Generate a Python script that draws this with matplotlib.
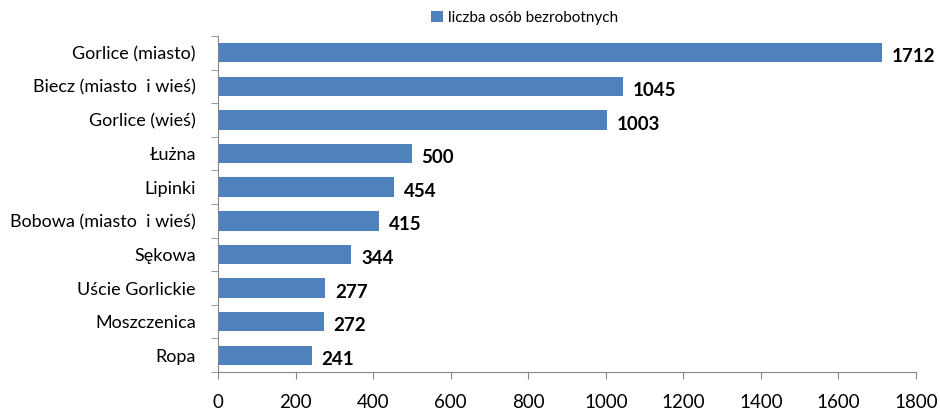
import matplotlib
matplotlib.use("Agg")
import matplotlib.pyplot as plt
import numpy as np
from matplotlib.ticker import FixedLocator

categories = ["Gorlice (miasto)", "Biecz (miasto  i wieś)", "Gorlice (wieś)", "Łużna", "Lipinki",
              "Bobowa (miasto  i wieś)", "Sękowa", "Uście Gorlickie", "Moszczenica", "Ropa"]
values = [1712, 1045, 1003, 500, 454, 415, 344, 277, 272, 241]
series_name = "liczba osób bezrobotnych"
xticks = [0, 200, 400, 600, 800, 1000, 1200, 1400, 1600, 1800]

plt.rcParams['font.family'] = ['Lato', 'DejaVu Sans']

fig = plt.figure(figsize=(9.4, 4.13), dpi=100)
ax = fig.add_axes([0.232, 0.099, 0.7425, 0.814])

y = np.arange(len(categories))
bars = ax.barh(y, values, height=0.58, color="#4F81BD", label=series_name)
ax.set_ylim(len(categories) - 0.5, -0.5)
ax.set_xlim(0, 1800)
ax.set_yticks(y)
ax.set_yticklabels(categories, fontsize=13)
ax.tick_params(axis='y', length=0, pad=16)
ax.yaxis.set_minor_locator(FixedLocator(np.arange(-0.5, len(categories), 1.0)))
ax.tick_params(axis='y', which='minor', length=5, direction='out', color='#868686')
ax.set_xticks(xticks)
ax.set_xticklabels([str(t) for t in xticks], fontsize=13.5)
ax.tick_params(axis='x', length=5, direction='out', color='#868686', pad=11)

for s in ['top', 'right']:
    ax.spines[s].set_visible(False)
for s in ['left', 'bottom']:
    ax.spines[s].set_color('#868686')

for yi, v in zip(y, values):
    ax.annotate(str(v), (v, yi), xytext=(7, -3), textcoords='offset points',
                va='center', ha='left', fontsize=13.5, fontweight='bold', color='black')

fig.legend(handles=[bars], labels=[series_name], loc='center', bbox_to_anchor=(0.558, 0.956),
           frameon=False, fontsize=11, handlelength=0.75, handleheight=0.75, handletextpad=0.35)

fig.savefig("out.png", dpi=100)
